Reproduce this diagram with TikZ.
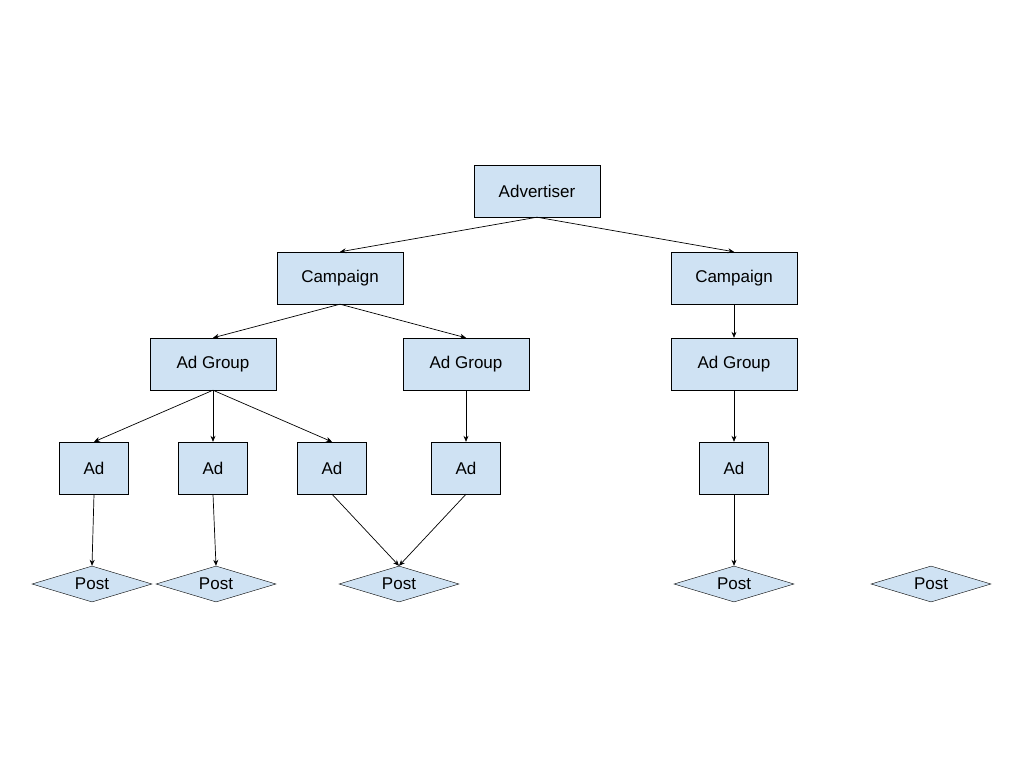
\documentclass[tikz,border=0pt]{standalone}
\usepackage{fontspec}
\setmainfont{Liberation Sans}
\usetikzlibrary{shapes.geometric,arrows.meta}
\definecolor{bx}{HTML}{CFE2F3}
\begin{document}
\begin{tikzpicture}[x=1pt,y=-1pt,
  box/.style={draw=black,fill=bx,minimum width=126pt,minimum height=52pt,inner sep=0pt,font=\fontsize{17}{20}\selectfont},
  ad/.style={box,minimum width=69pt},
  post/.style={draw=black,fill=bx,diamond,aspect=3.33,minimum width=120pt,minimum height=36pt,inner sep=0pt,font=\fontsize{17}{20}\selectfont},
  ar/.style={-{Stealth[length=6pt,width=5pt]},line width=0.7pt}]
\useasboundingbox (0,0) rectangle (1024,768);
\node[box] (adv) at (537,191) {Advertiser};
\node[box] (c1) at (340,278) {Campaign};
\node[box] (c2) at (734,278) {Campaign};
\node[box] (g1) at (213,364) {Ad Group};
\node[box] (g2) at (466,364) {Ad Group};
\node[box] (g3) at (734,364) {Ad Group};
\node[ad] (a1) at (94,468) {Ad};
\node[ad] (a2) at (213,468) {Ad};
\node[ad] (a3) at (332,468) {Ad};
\node[ad] (a4) at (466,468) {Ad};
\node[ad] (a5) at (734,468) {Ad};
\node[post] (p1) at (92,584) {Post};
\node[post] (p2) at (216,584) {Post};
\node[post] (p3) at (399,584) {Post};
\node[post] (p4) at (734,584) {Post};
\node[post] (p5) at (931,584) {Post};
\draw[ar] (adv.south) -- (c1.north);
\draw[ar] (adv.south) -- (c2.north);
\draw[ar] (c1.south) -- (g1.north);
\draw[ar] (c1.south) -- (g2.north);
\draw[ar] (c2.south) -- (g3.north);
\draw[ar] (g1.south) -- (a1.north);
\draw[ar] (g1.south) -- (a2.north);
\draw[ar] (g1.south) -- (a3.north);
\draw[ar] (g2.south) -- (a4.north);
\draw[ar] (g3.south) -- (a5.north);
\draw[ar] (a1.south) -- (p1.north);
\draw[ar] (a2.south) -- (p2.north);
\draw[ar] (a3.south) -- (p3.north);
\draw[ar] (a4.south) -- (p3.north);
\draw[ar] (a5.south) -- (p4.north);
\end{tikzpicture}
\end{document}
